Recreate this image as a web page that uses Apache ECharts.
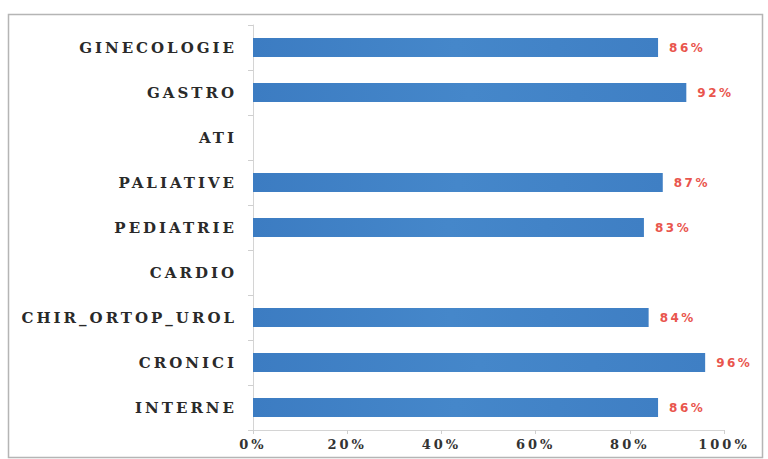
<!DOCTYPE html>
<html>
<head>
<meta charset="utf-8">
<script src="https://cdn.jsdelivr.net/npm/echarts@6/dist/echarts.min.js"></script>
<style>
  html, body { margin: 0; padding: 0; background: #fff; }
  #chart { width: 768px; height: 459px; }
  /* wide, spaced lettering: department names, axis ticks, value labels */
  #chart svg text { letter-spacing: 3px; }
  #chart svg text[fill="#2a2a2a"] { letter-spacing: 3px; }
  #chart svg text[fill="#333333"] { letter-spacing: 3px; }
  #chart svg text[fill="#e9554d"] { letter-spacing: 2.5px; }
</style>
</head>
<body>
<div id="chart"></div>
<script>
// Departments, listed bottom to top as the category axis draws them
const categories = ['INTERNE', 'CRONICI', 'CHIR_ORTOP_UROL', 'CARDIO', 'PEDIATRIE', 'PALIATIVE', 'ATI', 'GASTRO', 'GINECOLOGIE'];
// Percentage per department ('-' = no value reported)
const values = [86, 96, 84, '-', 83, 87, '-', 92, 86];
// Value-axis tick labels (0..100 every 20)
const tickLabels = ['0%', '20%', '40%', '60%', '80%', '100%'];

const chart = echarts.init(document.getElementById('chart'), null, { renderer: 'svg' });

const option = {
  animation: false,
  backgroundColor: '#ffffff',
  graphic: [{
    type: 'rect',
    left: 6, top: 12,
    shape: { width: 754, height: 443 },
    style: { fill: 'none', stroke: '#b5b5b5', lineWidth: 1.5 },
    silent: true
  }],
  grid: { left: 253, right: 44, top: 25, bottom: 29, containLabel: false },
  xAxis: {
    type: 'value',
    min: 0, max: 100, interval: 20,
    axisLine: { show: true, lineStyle: { color: '#d4d4d4', width: 1 } },
    axisTick: { show: true, length: 4, lineStyle: { color: '#cfcfcf' } },
    splitLine: { show: false },
    axisLabel: {
      margin: 8,
      color: '#333333',
      fontFamily: 'DejaVu Serif',
      fontWeight: 'bold',
      fontSize: 13,
      formatter: (v) => tickLabels[Math.round(v / 20)]
    }
  },
  yAxis: {
    type: 'category',
    data: categories,
    axisLine: { show: true, lineStyle: { color: '#d4d4d4', width: 1 } },
    axisTick: { show: true, length: 5, lineStyle: { color: '#cfcfcf' } },
    axisLabel: {
      margin: 16,
      color: '#2a2a2a',
      fontFamily: 'DejaVu Serif',
      fontWeight: 'bold',
      fontSize: 15
    }
  },
  series: [{
    type: 'bar',
    data: values,
    barWidth: 19,
    itemStyle: {
      color: new echarts.graphic.LinearGradient(0, 0, 1, 0, [
        { offset: 0, color: '#3c7cc2' },
        { offset: 0.5, color: '#4587ca' },
        { offset: 1, color: '#3f7fc4' }
      ])
    },
    label: {
      show: true,
      position: 'right',
      distance: 11,
      color: '#e9554d',
      fontFamily: 'DejaVu Sans',
      fontWeight: 'bold',
      fontSize: 12,
      formatter: (p) => p.value + '%'
    }
  }]
};

chart.setOption(option);
</script>
</body>
</html>
